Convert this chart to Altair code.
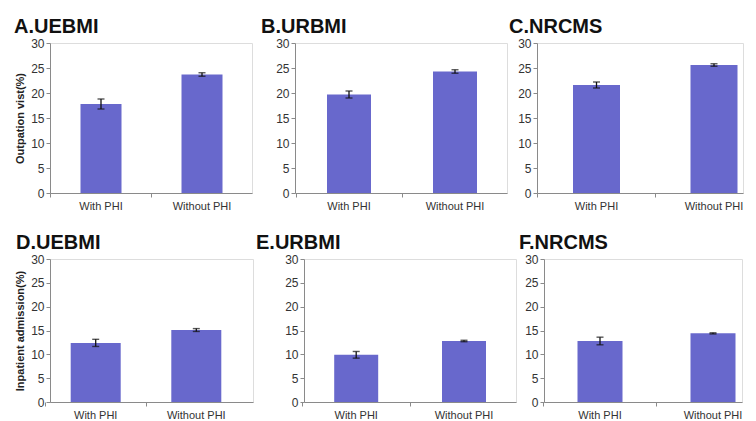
import altair as alt
import pandas as pd

panels = ["A.UEBMI", "B.URBMI", "C.NRCMS", "D.UEBMI", "E.URBMI", "F.NRCMS"]
categories = ["With PHI", "Without PHI"]
with_phi = [17.8, 19.7, 21.6, 12.4, 9.9, 12.8]
without_phi = [23.7, 24.3, 25.6, 15.1, 12.8, 14.4]
err_with = [1.0, 0.7, 0.6, 0.75, 0.7, 0.8]
err_without = [0.35, 0.35, 0.25, 0.3, 0.15, 0.12]
y_titles = ["Outpation vist(%)", None, None, "Inpatient admission(%)", None, None]
y_ticks = [0, 5, 10, 15, 20, 25, 30]

# layout (pixels): plot width, height, band step, bar width, first-bar centre offset
widths = [202, 212, 206, 203, 212, 198]
heights = [150, 150, 150, 143, 143, 143]
steps = [101, 106, 117.5, 100.6, 107.8, 113]
bar_px = [41, 44, 47, 50, 44, 45]
first_c = [51, 54, 59.5, 45.7, 52.2, 56]
title_dx = [0, 7, 0, 2, 1, 1]
axis_ext = [20, 41, 28, 20, 49, 26]

BAR = "#6868CC"
AX = "#8a8a8a"
FONT = "Liberation Sans"


def panel(i):
    df = pd.DataFrame({
        "cat": categories,
        "val": [with_phi[i], without_phi[i]],
        "err": [err_with[i], err_without[i]],
    })
    df["lo"] = df["val"] - df["err"]
    df["hi"] = df["val"] + df["err"]
    W, s, bw, c1 = widths[i], steps[i], bar_px[i], first_c[i]
    pi = 1 - bw / s
    po = max((W / s - 2 + pi) / 2, 0.0)
    outer = 2 * po * s
    left = c1 - bw / 2
    align = min(max(left / outer, 0.0), 1.0) if outer > 0 else 0.5
    xscale = alt.Scale(domain=categories, paddingInner=pi, paddingOuter=po,
                       align=align)
    xaxis = alt.Axis(title=None, labelAngle=0, domainColor=AX, tickColor=AX,
                     tickSize=4, bandPosition=-(pi * s / 2) / bw,
                     labelFontSize=11, labelColor="#333", labelPadding=3,
                     labelFont=FONT)
    yscale = alt.Scale(domain=[0, 30])
    yaxis = alt.Axis(title=y_titles[i], values=y_ticks, grid=False,
                     domainColor=AX, tickColor=AX, tickSize=4,
                     labelFontSize=12, labelColor="#333", labelPadding=2,
                     labelFont=FONT, titleFont=FONT, titleFontSize=11,
                     titleFontWeight="bold", titleColor="#222", titlePadding=5,
                     minExtent=axis_ext[i])

    def X():
        return alt.X("cat:N", scale=xscale, sort=categories, axis=xaxis)

    def Y(f):
        return alt.Y(f + ":Q", scale=yscale, axis=yaxis)

    base = alt.Chart(df)
    bars = base.mark_bar(color=BAR).encode(x=X(), y=Y("val"))
    rule = base.mark_rule(color="#111", strokeWidth=1.3).encode(
        x=X(), y=Y("lo"), y2="hi:Q")
    cap_lo = base.mark_tick(color="#111", size=7, thickness=1.4).encode(
        x=X(), y=Y("lo"))
    cap_hi = base.mark_tick(color="#111", size=7, thickness=1.4).encode(
        x=X(), y=Y("hi"))
    return alt.layer(bars, rule, cap_lo, cap_hi).properties(
        width=widths[i], height=heights[i],
        title=alt.TitleParams(panels[i], anchor="start", fontSize=20,
                              fontWeight="bold", font=FONT, color="#111",
                              offset=0, dx=title_dx[i]))


p = [panel(i) for i in range(6)]

row1 = alt.hconcat(p[0], p[1], p[2], spacing=0)
row2 = alt.hconcat(p[3], p[4], p[5], spacing=0)

chart = alt.vconcat(row1, row2, spacing=20).properties(
    padding={"left": 5, "top": 8, "right": 0, "bottom": 0},
    background="white",
).configure_view(stroke=None).configure(font=FONT)

chart.save("out.html", embed_options={"renderer": "svg", "actions": False})
